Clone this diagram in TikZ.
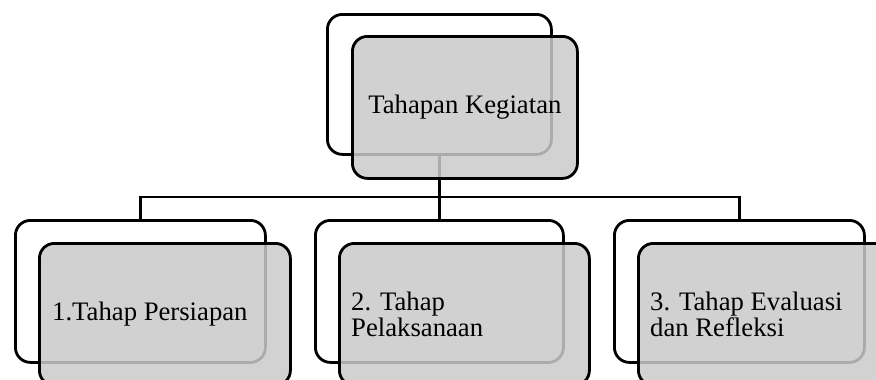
\documentclass[tikz,border=0pt]{standalone}
\usepackage{fontspec}
\setmainfont{Liberation Serif}
\begin{document}
\begin{tikzpicture}[x=1pt,y=-1pt,
  backbox/.style={draw=black, line width=2.8pt, rounded corners=15pt, fill=white, inner sep=0pt, anchor=north west},
  frontbox/.style={draw=black, line width=2.8pt, rounded corners=15pt, fill={rgb,255:red,202;green,202;blue,202}, fill opacity=0.85, draw opacity=1, inner sep=0pt, anchor=north west},
  conn/.style={draw=black, line width=2.6pt},
  lbl/.style={font=\fontsize{26.7}{25.5}\selectfont, align=left, inner sep=0pt, text=black}]
\useasboundingbox (0,0) rectangle (876,380);
\clip (0,0) rectangle (876,380);
% back boxes
\node[backbox, minimum width=224pt, minimum height=140pt] (tb) at (326,13) {};
\node[backbox, minimum width=250pt, minimum height=142pt] (b1) at (14,219) {};
\node[backbox, minimum width=248pt, minimum height=142pt] (b2) at (314,219) {};
\node[backbox, minimum width=250pt, minimum height=142pt] (b3) at (613,219) {};
% connectors
\coordinate (hub) at (tb.south |- 0,197);
\draw[conn] (tb.south) -- (hub);
\draw[conn] (b1.north) |- (hub) -| (b3.north);
\draw[conn] (b2.north) -- (b2.north |- hub);
% front boxes
\node[frontbox, minimum width=225pt, minimum height=142pt] (tf) at (351,35) {};
\node[frontbox, minimum width=251pt, minimum height=142pt] (f1) at (38,242) {};
\node[frontbox, minimum width=250pt, minimum height=142pt] (f2) at (338,242) {};
\node[frontbox, minimum width=250pt, minimum height=142pt] (f3) at (637,242) {};
% labels
\node[lbl] (t0) at (tf.center) {Tahapan Kegiatan};
\node[lbl, anchor=west] (t1) at ([xshift=14pt]f1.west) {1.Tahap Persiapan};
\node[lbl, anchor=west] (t2) at ([xshift=13pt]f2.west) {2. Tahap\\Pelaksanaan};
\node[lbl, anchor=west] (t3) at ([xshift=13pt]f3.west) {3. Tahap Evaluasi\\dan Refleksi};
\end{tikzpicture}
\end{document}
